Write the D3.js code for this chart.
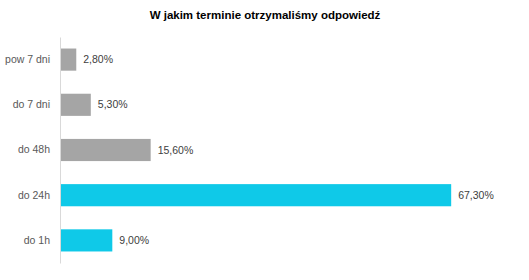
<!DOCTYPE html>
<head>
    <title>W jakim terminie</title>
</head>
<style>
    body { margin: 0; background: #fff; }
    svg { font-family: "Liberation Sans", Arial, sans-serif; }
</style>
<svg width="529" height="280"></svg>
<script src="https://d3js.org/d3.v7.min.js"></script>
<script>

    var categories = ["pow 7 dni", "do 7 dni", "do 48h", "do 24h", "do 1h"];
    var values = [2.8, 5.3, 15.6, 67.3, 9.0];
    var highlighted = ["do 24h", "do 1h"];

    var svg = d3.select("svg");

    var x = d3.scaleLinear().domain([0, 80]).range([60, 525]);
    var y = d3.scaleBand().domain(categories).range([37, 263]).paddingInner(0.51).paddingOuter(0.255);

    var fmt = function(v) { return v.toFixed(2).replace(".", ",") + "%"; };

    svg.append("text")
        .attr("x", 265)
        .attr("y", 19)
        .attr("text-anchor", "middle")
        .attr("font-size", 11.5)
        .attr("font-weight", "bold")
        .attr("fill", "#000")
        .text("W jakim terminie otrzymaliśmy odpowiedź");

    svg.selectAll("rect.bar")
        .data(categories)
        .enter().append("rect")
        .attr("class", "bar")
        .attr("x", x(0))
        .attr("y", function(d) { return y(d); })
        .attr("width", function(d, i) { return x(values[i]) - x(0); })
        .attr("height", y.bandwidth())
        .attr("fill", function(d) { return highlighted.indexOf(d) >= 0 ? "#0fc9e8" : "#a5a5a5"; });

    // value labels
    svg.selectAll("text.val")
        .data(categories)
        .enter().append("text")
        .attr("class", "val")
        .attr("x", function(d, i) { return x(values[i]) + 7; })
        .attr("y", function(d) { return y(d) + y.bandwidth() / 2; })
        .attr("dy", "0.35em")
        .attr("font-size", 10.5)
        .attr("fill", "#404040")
        .text(function(d, i) { return fmt(values[i]); });

    var axis = svg.append("g")
        .attr("transform", "translate(" + x(0) + ",0)")
        .call(d3.axisLeft(y).tickSize(0).tickPadding(10));
    axis.select(".domain").attr("stroke", "#d9d9d9");
    axis.selectAll("text")
        .attr("font-size", 10.5)
        .attr("font-family", "Liberation Sans, Arial, sans-serif")
        .attr("fill", "#595959");

</script>
